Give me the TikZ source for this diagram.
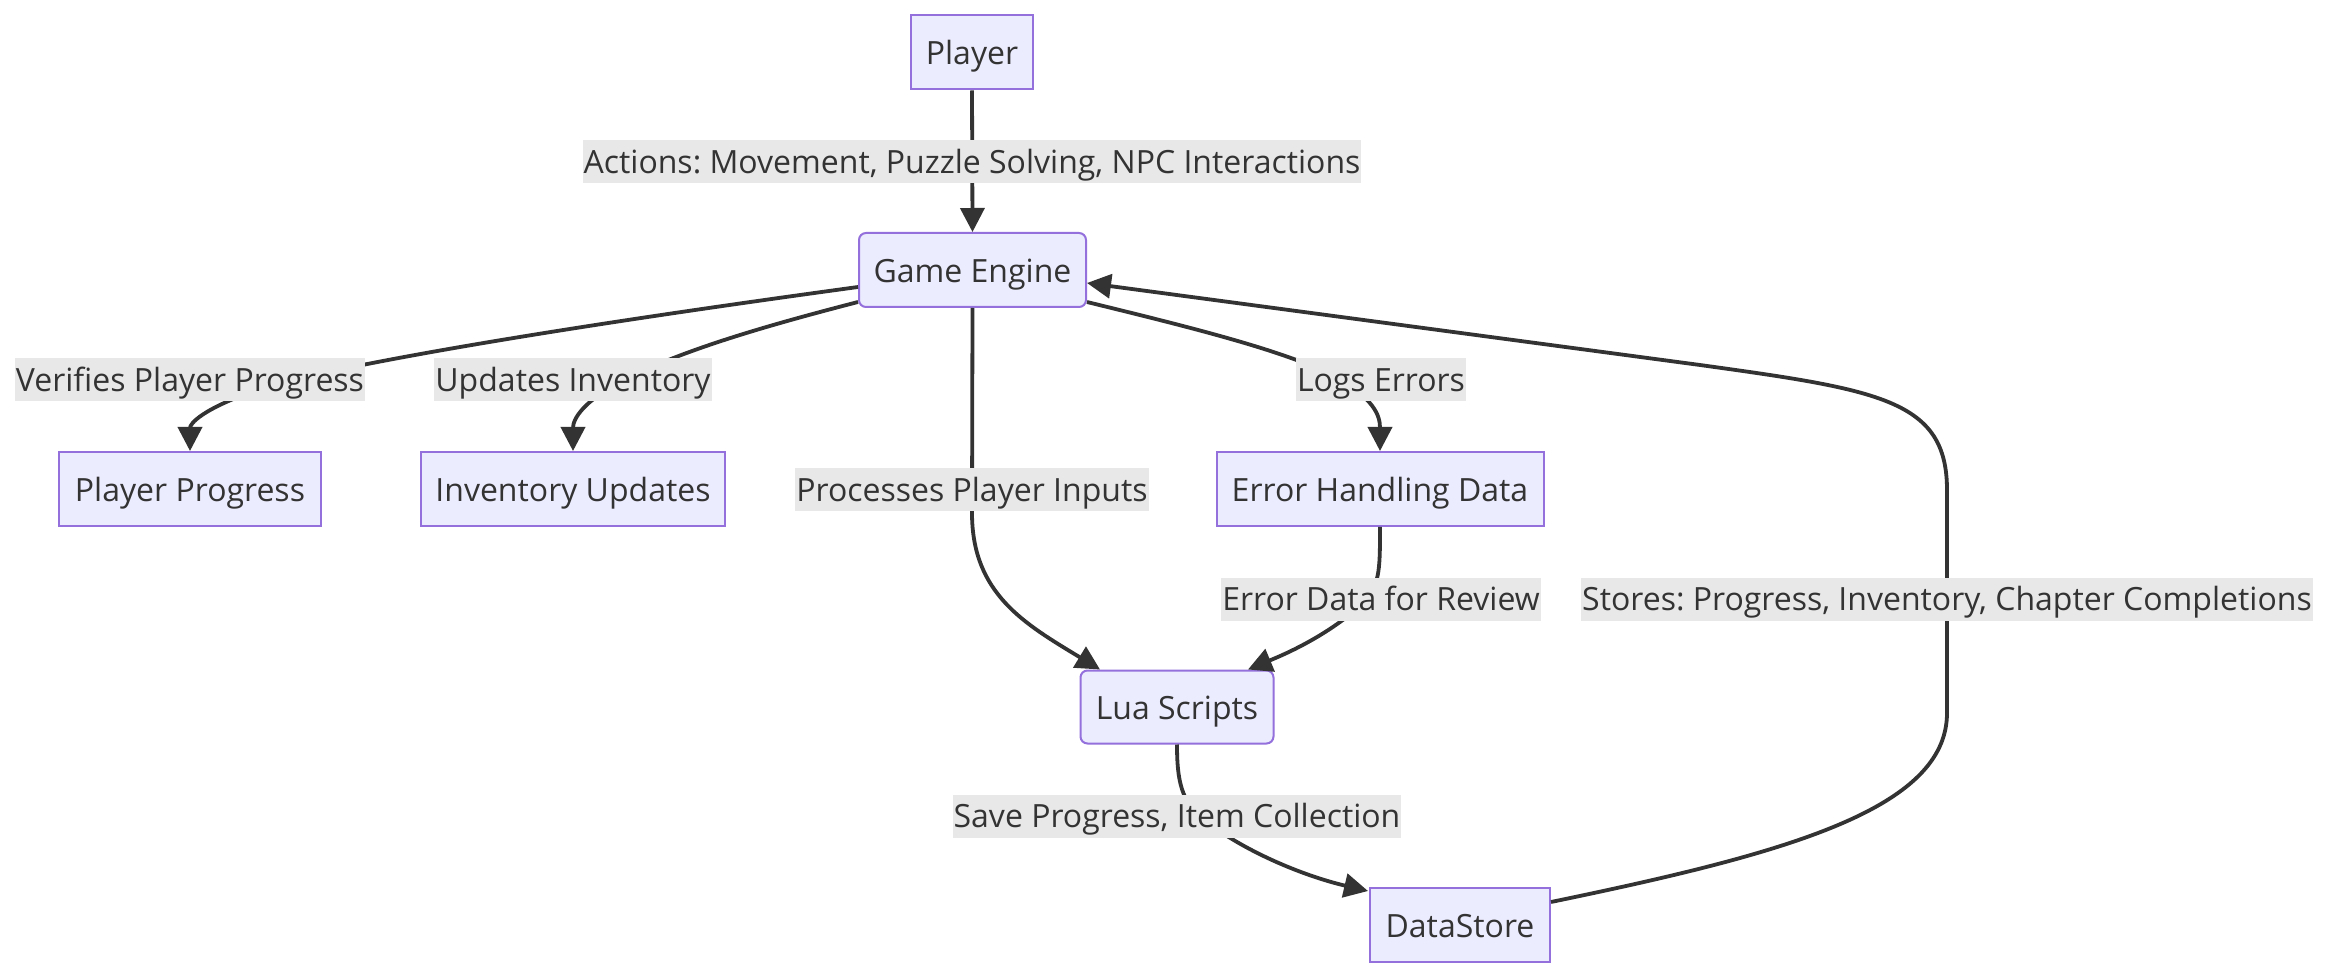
\documentclass[tikz,border=0pt]{standalone}
\usepackage{fontspec}
\setmainfont{Open Sans}
\usetikzlibrary{arrows.meta,calc}
\definecolor{nodefill}{HTML}{ECECFF}
\definecolor{nodeline}{HTML}{9370DB}
\definecolor{edgecol}{HTML}{333333}
\definecolor{lblfill}{HTML}{E8E8E8}
\frenchspacing
\begin{document}
\frenchspacing
\begin{tikzpicture}[x=0.5pt,y=-0.5pt,
  box/.style={draw=nodeline,fill=nodefill,line width=1pt,text=edgecol,font=\fontsize{16pt}{19pt}\selectfont\frenchspacing,inner sep=0pt,minimum height=37pt,text height=14pt,text depth=1.5pt},
  rbox/.style={box,rounded corners=3.5pt},
  lbl/.style={fill=lblfill,text=edgecol,font=\fontsize{16pt}{19pt}\selectfont\frenchspacing,inner xsep=0.5pt,inner ysep=0pt,minimum height=21.5pt,text height=13.5pt,text depth=1.9pt},
  conn/.style={draw=edgecol,line width=1.9pt,-{Triangle[length=12pt,width=12pt]}}]
\useasboundingbox (0,0) rectangle (2330,978);
\fill[white] (0,0) rectangle (2330,978);
% nodes
\node[box,minimum width=61pt] (player) at (972,52.5) {Player};
\node[rbox,minimum width=113.5pt] (ge) at (972.5,270) {Game Engine};
\node[box,minimum width=131pt] (pp) at (190,489) {Player Progress};
\node[box,minimum width=152pt] (iu) at (573,489) {Inventory Updates};
\node[box,minimum width=163.5pt] (ehd) at (1380,489) {Error Handling Data};
\node[rbox,minimum width=96.5pt,minimum height=36.5pt] (lua) at (1177,707) {Lua Scripts};
\node[box,minimum width=90pt,minimum height=37pt] (ds) at (1460,925) {DataStore};
% connectors
\draw[conn] (player.south) -- (ge.north);
\draw[conn] ($(ge.west)+(0,17)$) .. controls (565,327) and (342,364) .. (260,389) .. controls (201,409) and (190,424) .. (pp.north);
\draw[conn] ($(ge.west)+(0,32)$) .. controls (773,324) and (684,349) .. (624,380) .. controls (583,401) and (573,419) .. (iu.north);
\draw[conn] (ge.south) -- (972,513) .. controls (972,594) and (1025,624) .. ($(lua.north)+(-77,0)$);
\draw[conn] ($(ge.east)+(0,32)$) .. controls (1189,327) and (1278,349) .. (1330,374) .. controls (1375,398) and (1380,416) .. (ehd.north);
\draw[conn] (ehd.south) .. controls (1380,572) and (1380,587) .. (1360,606) .. controls (1323,639) and (1278,657) .. ($(lua.north)+(71,0)$);
\draw[conn] (lua.south) .. controls (1177,780) and (1181,802) .. (1204,820) .. controls (1248,854) and (1308,877) .. ($(ds.north west)+(-1,4)$);
\draw[conn] ($(ds.east)+(0,-23)$) .. controls (1783,854) and (1947,810) .. (1947,713) -- (1947,490) .. controls (1947,400) and (1880,390) .. (1700,365) -- ($(ge.east)+(0,13)$);
% edge labels
\node[lbl] (l1) at (972,162) {Actions: Movement, Puzzle Solving, NPC Interactions};
\node[lbl] (l2) at (190,380) {Verifies Player Progress};
\node[lbl] (l3) at (573,380) {Updates Inventory};
\node[lbl] (l4) at (972,490) {Processes Player Inputs};
\node[lbl] (l5) at (1381,380) {Logs Errors};
\node[lbl] (l6) at (1381,599) {Error Data for Review};
\node[lbl] (l7) at (1947,599) {Stores: Progress, Inventory, Chapter Completions};
\node[lbl] (l8) at (1177,816) {Save Progress, Item Collection};
\end{tikzpicture}
\end{document}
